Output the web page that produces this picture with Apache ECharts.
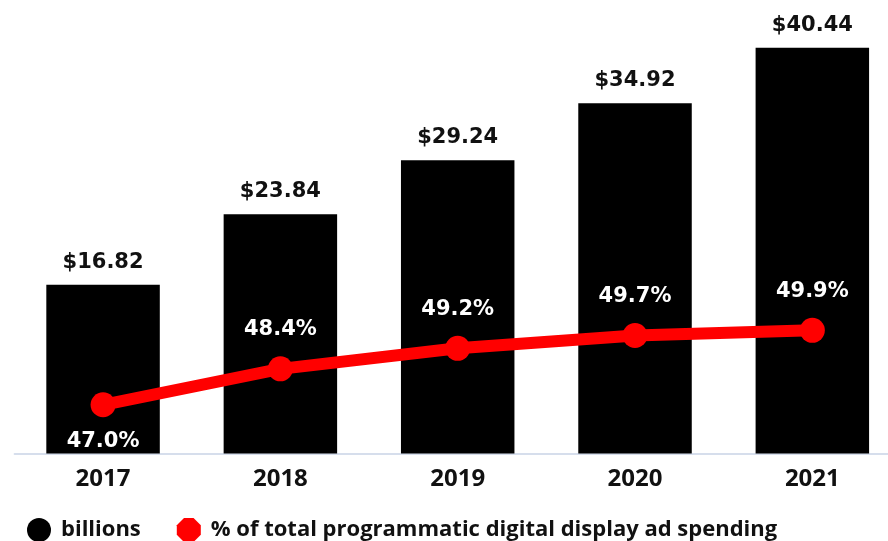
<!DOCTYPE html>
<html>
<head>
<meta charset="utf-8">
<script src="https://cdn.jsdelivr.net/npm/echarts@6/dist/echarts.min.js"></script>
<style>
  html, body { margin: 0; padding: 0; background: #fff; overflow: hidden; }
  #chart { width: 901px; height: 541px; }
</style>
</head>
<body>
<div id="chart"></div>
<script>
var years = ['2017', '2018', '2019', '2020', '2021'];
var spending = [16.82, 23.84, 29.24, 34.92, 40.44];   // billions
var share = [47.0, 48.4, 49.2, 49.7, 49.9];           // % of total programmatic
var barName = 'billions';
var lineName = '% of total programmatic digital display ad spending';

// chart is a bit wider than the window: the last bar's slot runs off the right edge
var chart = echarts.init(document.getElementById('chart'));

var option = {
  backgroundColor: '#fff',
  animation: false,
  grid: { left: 14.4, right: 0, top: 2, bottom: 87.5 },
  legend: {
    left: 22,
    top: 513,
    itemWidth: 24,
    itemHeight: 24,
    itemGap: 36,
    textStyle: { fontFamily: 'Open Sans', fontWeight: 'bold', fontSize: 22, color: '#111', padding: [0, 0, 0, 5] },
    data: [
      { name: barName, icon: 'circle' },
      { name: lineName, icon: 'path://M30,0 L70,0 L100,30 L100,70 L70,100 L30,100 L0,70 L0,30 Z' }
    ]
  },
  xAxis: {
    type: 'category',
    data: years,
    axisTick: { show: false },
    axisLine: { lineStyle: { color: '#c9d4e6', width: 1.5 } },
    axisLabel: { margin: 14, fontFamily: 'Open Sans', fontWeight: 'bold', fontSize: 24, color: '#111' }
  },
  yAxis: [
    { type: 'value', min: 0, max: 45, show: false, splitLine: { show: false } },
    { type: 'value', min: 45.1, max: 62.7, show: false, splitLine: { show: false } }
  ],
  series: [
    {
      name: barName,
      type: 'bar',
      data: spending,
      barWidth: '64%',
      itemStyle: { color: '#000' },
      label: {
        show: true,
        position: 'top',
        distance: 12,
        fontFamily: 'DejaVu Sans',
        fontWeight: 'bold',
        fontSize: 21,
        color: '#111',
        formatter: function (p) { return '$' + p.value.toFixed(2); }
      }
    },
    {
      name: lineName,
      type: 'line',
      yAxisIndex: 1,
      data: share.map(function (v, i) {
        return i === 0 ? { value: v, label: { position: 'bottom', distance: 14 } } : v;
      }),
      symbol: 'circle',
      symbolSize: 25,
      lineStyle: { color: '#ff0000', width: 12 },
      itemStyle: { color: '#ff0000' },
      label: {
        show: true,
        position: 'top',
        distance: 16,
        fontFamily: 'DejaVu Sans',
        fontWeight: 'bold',
        fontSize: 21,
        color: '#fff',
        formatter: function (p) { return p.value.toFixed(1) + '%'; }
      }
    }
  ]
};

chart.setOption(option);
</script>
</body>
</html>
